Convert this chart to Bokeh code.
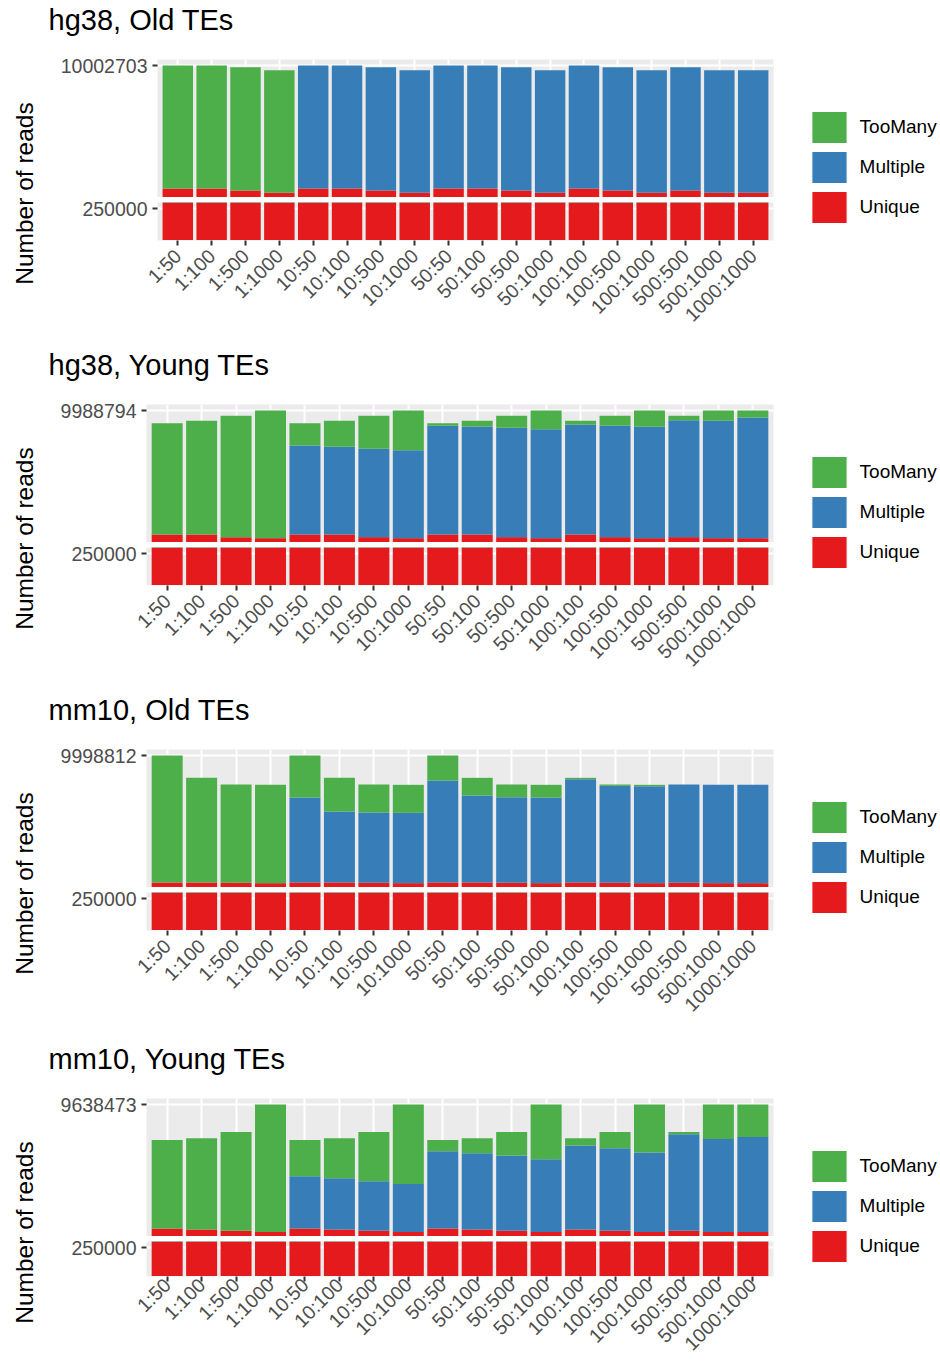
import math
from bokeh.plotting import figure
from bokeh.models import (ColumnDataSource, Range1d, FixedTicker, NumeralTickFormatter,
                          Label, Legend, LegendItem)
from bokeh.layouts import row, column
from bokeh.embed import file_html
from bokeh.resources import INLINE

# ---------------- data ----------------
categories = ["1:50", "1:100", "1:500", "1:1000", "10:50", "10:100", "10:500", "10:1000",
              "50:50", "50:100", "50:500", "50:1000", "100:100", "100:500", "100:1000",
              "500:500", "500:1000", "1000:1000"]
series_names = ["Unique", "Multiple", "TooMany"]
legend_order = ["TooMany", "Multiple", "Unique"]
series_colors = {"Unique": "#E41A1C", "Multiple": "#377EB8", "TooMany": "#4DAF4A"}

titles = ["hg38, Old TEs", "hg38, Young TEs", "mm10, Old TEs", "mm10, Young TEs"]
y_max_ticks = [10002703, 9988794, 9998812, 9638473]
y_low_tick = 250000

hg38_old_unique = [1097300, 1097300, 952500, 783500, 1097300, 1097300, 952500, 783500, 1097300,
                   1097300, 952500, 783500, 1097300, 952500, 783500, 952500, 783500, 783500]
hg38_old_multiple = [0, 0, 0, 0, 8905403, 8905403, 8929500, 8881300, 8905403,
                     8905403, 8929500, 8881300, 8905403, 8929500, 8881300, 8929500, 8881300, 8881300]
hg38_old_toomany = [8905403, 8905403, 8929500, 8881300, 0, 0, 0, 0, 0,
                    0, 0, 0, 0, 0, 0, 0, 0, 0]

hg38_young_unique = [1023800, 1023800, 831000, 758700, 1023800, 1023800, 831000, 758700, 1023800,
                     1023800, 831000, 758700, 1023800, 831000, 758700, 831000, 758700, 758700]
hg38_young_multiple = [0, 0, 0, 0, 6434700, 6338300, 6386500, 6362400, 7856600,
                       7808400, 7904800, 7880700, 7953000, 8049400, 8049400, 8459100, 8483200, 8724200]
hg38_young_toomany = [8049400, 8218100, 8772400, 9230094, 1614700, 1879800, 2385900, 2867694, 192800,
                      409700, 867600, 1349394, 265100, 723000, 1180694, 313300, 746894, 505894]

mm10_old_unique = [807400, 807400, 783300, 759200, 807400, 807400, 783300, 759200, 807400,
                   807400, 783300, 759200, 807400, 783300, 759200, 783300, 759200, 759200]
mm10_old_multiple = [0, 0, 0, 0, 6151600, 5138400, 5090200, 5090100, 7382000,
                     6296400, 6199900, 6199800, 7478500, 7020100, 7020100, 7116600, 7116600, 7116600]
mm10_old_toomany = [9191412, 7575000, 7116600, 7116600, 3039812, 2436600, 2026400, 2026500, 1809412,
                    1278600, 916700, 916800, 96500, 96500, 96500, 0, 0, 0]

mm10_young_unique = [998600, 928800, 835600, 742500, 998600, 928800, 835600, 742500, 998600,
                     928800, 835600, 742500, 928800, 835600, 742500, 835600, 742500, 742500]
mm10_young_multiple = [0, 0, 0, 0, 3633000, 3563000, 3446600, 3353400, 5379600,
                       5309600, 5239800, 5076700, 5845300, 5752100, 5542500, 6730200, 6497300, 6637000]
mm10_young_toomany = [6171300, 6357600, 6893300, 8895973, 2538300, 2794600, 3446700, 5542573, 791700,
                      1048000, 1653500, 3819273, 512300, 1141200, 3353473, 163100, 2398673, 2258973]

panels_data = [
    (hg38_old_unique, hg38_old_multiple, hg38_old_toomany),
    (hg38_young_unique, hg38_young_multiple, hg38_young_toomany),
    (mm10_old_unique, mm10_old_multiple, mm10_old_toomany),
    (mm10_young_unique, mm10_young_multiple, mm10_young_toomany),
]

# ---------------- layout / style ----------------
FONT = "Liberation Sans"
PANEL_H = [345, 345, 349, 326]
FRAME_LEFT = [112, 101, 101, 101]
XLAB_STANDOFF = [7, 7, 7, 0]
TITLE_H = 50
UPPER_TOP_BORDER = 9
UPPER_FRAME_H = 138
GAP = 5
LOWER_FRAME_H = 38
YLAB_W = 45
MAIN_W = 745
LEG_W = 150
RIGHT_BORDER = 17
BREAK_HI = 276700          # break level (just under the bottom edge of the upper segment)
LOWER_RANGE = (-4000, 302400)
BG = "#EBEBEB"
TICK_TXT = "#4D4D4D"
TICK_LINE = "#333333"

xs = list(range(1, len(categories) + 1))
NAN = float("nan")


def style_common(p):
    p.background_fill_color = BG
    p.border_fill_color = "white"
    p.outline_line_color = None
    p.xgrid.ticker = FixedTicker(ticks=xs)
    p.xgrid.grid_line_color = "white"
    p.xgrid.grid_line_width = 2
    p.ygrid.grid_line_color = "white"
    p.ygrid.grid_line_width = 2
    for ax in p.yaxis:
        ax.axis_line_color = None
        ax.major_tick_out = 5
        ax.major_tick_in = 0
        ax.major_tick_line_color = TICK_LINE
        ax.major_tick_line_width = 2
        ax.minor_tick_line_color = None
        ax.major_label_standoff = 5
        ax.major_label_text_font = FONT
        ax.major_label_text_font_size = "19.5px"
        ax.major_label_text_color = TICK_TXT
        ax.formatter = NumeralTickFormatter(format="0")


def draw_bars(p, src):
    p.vbar_stack(series_names, x="x", width=0.9, source=src,
                 fill_color=[series_colors[s] for s in series_names], line_color=None)


def blank_fig(w, h):
    f = figure(width=w, height=h, x_range=Range1d(0, w), y_range=Range1d(0, h),
               output_backend="svg", toolbar_location=None, min_border=0,
               x_axis_type=None, y_axis_type=None)
    f.outline_line_color = None
    f.grid.visible = False
    return f


TOTAL_W = YLAB_W + MAIN_W + LEG_W
panels = []
for i in range(4):
    uniq, mult, toom = panels_data[i]
    ymax = y_max_ticks[i]
    H = PANEL_H[i]
    body_h = H - TITLE_H
    src = ColumnDataSource(dict(x=xs, Unique=uniq, Multiple=mult, TooMany=toom))

    # title strip
    tf = blank_fig(TOTAL_W, TITLE_H)
    tf.add_layout(Label(x=48, y=TITLE_H - 19.3, text=titles[i],
                        text_font=FONT, text_font_size="29px", text_color="black",
                        text_baseline="middle", text_align="left"))

    # upper segment
    scale = (ymax - BREAK_HI) / 134.3
    up = figure(width=MAIN_W, height=UPPER_TOP_BORDER + UPPER_FRAME_H,
                x_range=Range1d(0.4, 18.6),
                y_range=Range1d(BREAK_HI + 2.3 * scale, ymax + 6 * scale),
                output_backend="svg", toolbar_location=None,
                min_border_left=FRAME_LEFT[i], min_border_right=RIGHT_BORDER,
                min_border_top=UPPER_TOP_BORDER, min_border_bottom=0)
    style_common(up)
    up.xaxis.visible = False
    up.yaxis.ticker = FixedTicker(ticks=[ymax])
    up.ygrid.ticker = FixedTicker(ticks=[ymax])
    draw_bars(up, src)

    # lower segment (with x axis)
    low_h = body_h - UPPER_TOP_BORDER - UPPER_FRAME_H
    low = figure(width=MAIN_W, height=low_h,
                 x_range=up.x_range, y_range=Range1d(*LOWER_RANGE),
                 output_backend="svg", toolbar_location=None,
                 min_border_left=FRAME_LEFT[i], min_border_right=RIGHT_BORDER,
                 min_border_top=GAP, min_border_bottom=low_h - GAP - LOWER_FRAME_H)
    style_common(low)
    low.yaxis.ticker = FixedTicker(ticks=[y_low_tick])
    low.ygrid.ticker = FixedTicker(ticks=[y_low_tick])
    xa = low.xaxis[0]
    xa.ticker = FixedTicker(ticks=xs)
    xa.major_label_overrides = {x: c for x, c in zip(xs, categories)}
    xa.major_label_orientation = math.pi / 4
    xa.axis_line_color = None
    xa.major_tick_out = 5
    xa.major_tick_in = 0
    xa.major_tick_line_color = TICK_LINE
    xa.major_tick_line_width = 2
    xa.minor_tick_line_color = None
    xa.major_label_standoff = XLAB_STANDOFF[i]
    xa.major_label_text_font = FONT
    xa.major_label_text_font_size = "19.5px"
    xa.major_label_text_color = TICK_TXT
    draw_bars(low, src)

    # y-axis title
    yl = blank_fig(YLAB_W, body_h)
    yl.add_layout(Label(x=24, y=body_h - 143, text="Number of reads", angle=math.pi / 2,
                        text_font=FONT, text_font_size="24.5px", text_color="black",
                        text_align="center", text_baseline="middle"))

    # legend
    lg = blank_fig(LEG_W, body_h)
    rends = {}
    for s in series_names:
        rends[s] = lg.vbar(x=[NAN], top=[NAN], width=0.5, fill_color=series_colors[s],
                           line_color="white", line_width=1)
    legend = Legend(items=[LegendItem(label=s, renderers=[rends[s]]) for s in legend_order],
                    location=(16.6, H - 226.5), glyph_width=44, glyph_height=40, spacing=0,
                    padding=0, margin=0, label_standoff=9, label_height=20,
                    label_text_font=FONT, label_text_font_size="19px",
                    label_text_color="black", border_line_color=None,
                    background_fill_alpha=0)
    lg.add_layout(legend)

    panels.append(column(tf, row(yl, column(up, low, spacing=0), lg, spacing=0), spacing=0))

layout = column(*panels, spacing=0)
open("out.html", "w").write(file_html(layout, INLINE))
